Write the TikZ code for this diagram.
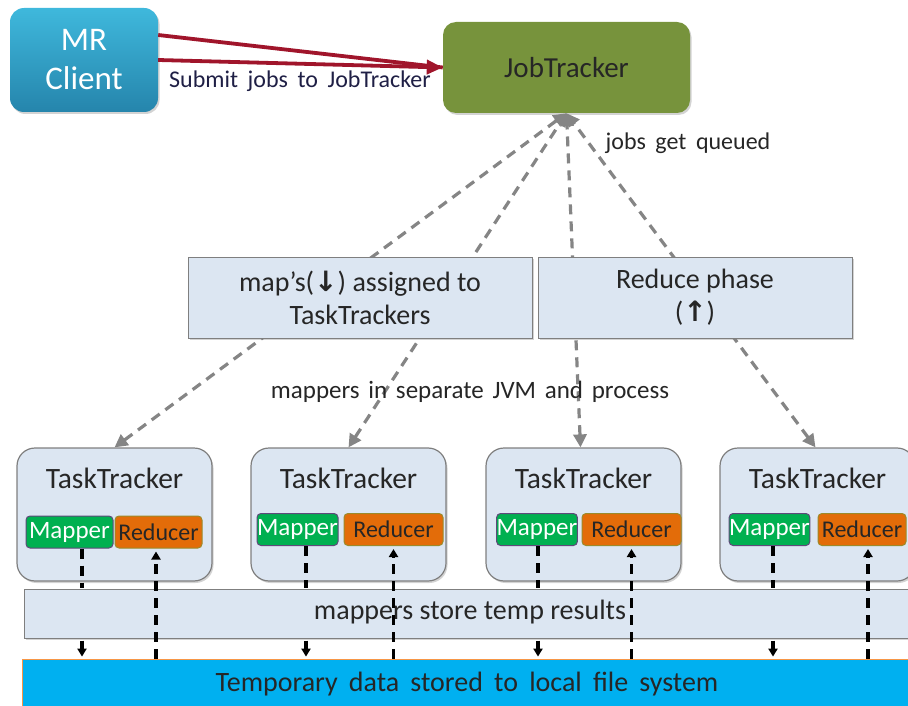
\documentclass[tikz,border=0pt]{standalone}
\usepackage{fontspec}
\setmainfont{Carlito}
\newfontfamily\dejavub{DejaVu Sans Bold}
\usetikzlibrary{arrows.meta,calc,shadows}
\definecolor{boxfill}{HTML}{DCE6F2}
\definecolor{boxline}{HTML}{7F7F7F}
\definecolor{txtcol}{HTML}{262626}
\definecolor{mrtop}{HTML}{3FB8DC}
\definecolor{mrbot}{HTML}{2585AC}
\definecolor{jtfill}{HTML}{77933C}
\definecolor{redarr}{HTML}{A0152B}
\definecolor{grayarr}{HTML}{858585}
\definecolor{mapfill}{HTML}{00B050}
\definecolor{mapline}{HTML}{5F497A}
\definecolor{redfill}{HTML}{E36C09}
\definecolor{redline}{HTML}{9C8A2A}
\definecolor{tmpfill}{HTML}{00B0F0}
\definecolor{tmpline}{HTML}{F79646}
\definecolor{navytxt}{HTML}{1F1F45}
\newcommand{\widesp}[1]{\spaceskip=#1\relax}
\begin{document}
\begin{tikzpicture}[x=1pt,y=-1pt,
  shad/.style={drop shadow={opacity=0.35,shadow xshift=1.5pt,shadow yshift=-2pt}},
  mrbox/.style={rounded corners=14pt,minimum width=148pt,minimum height=104pt,
    top color=mrtop,bottom color=mrbot,draw=none,text=white,align=center,
    font=\fontsize{33}{39}\selectfont,shad},
  jtbox/.style={rounded corners=13pt,minimum width=247pt,minimum height=91pt,
    fill=jtfill,draw=none,text=txtcol,font=\fontsize{29}{34}\selectfont,shad},
  midbox/.style={fill=boxfill,draw=boxline,line width=1pt,minimum height=81pt,
    text=txtcol,align=center,font=\fontsize{28}{33}\selectfont,shad},
  ttbox/.style={rounded corners=18pt,fill=boxfill,draw=boxline,line width=1.2pt,
    minimum width=195pt,minimum height=133pt,shad},
  tttext/.style={text=txtcol,font=\fontsize{29.5}{34}\selectfont,inner sep=0pt},
  mapbox/.style={rounded corners=4pt,fill=mapfill,draw=mapline,line width=1pt,
    minimum height=32pt,inner sep=0pt,text=white,font=\fontsize{25}{29}\selectfont},
  redbox/.style={rounded corners=4pt,fill=redfill,draw=redline,line width=1pt,
    minimum height=32pt,inner sep=0pt,text=txtcol,font=\fontsize{24}{28}\selectfont},
  barbox/.style={fill=boxfill,draw=boxline,line width=1pt,minimum height=49pt,
    minimum width=888pt,shad},
  tmpbox/.style={fill=tmpfill,draw=tmpline,line width=0.8pt,minimum height=52pt,
    minimum width=890pt},
  lbl/.style={text=txtcol,inner sep=0pt},
  redarrow/.style={draw=redarr,line width=3.8pt},
  graydash/.style={draw=grayarr,line width=3.2pt,dash pattern=on 10pt off 7pt,
    {Triangle[length=13pt,width=13pt]}-{Triangle[length=13pt,width=13pt]}},
  blkdash/.style={draw=black,line width=3.2pt,dash pattern=on 10pt off 7pt},
  blktip/.style={-{Triangle[length=8pt,width=9pt]}}
]
\useasboundingbox (0,0) rectangle (908,706);

% top nodes
\node[mrbox] (mr) at (84,60) {MR\\Client};
\node[jtbox] (jt) at (566.5,67.5) {JobTracker};

% task trackers
\node[ttbox] (tt1) at (114.5,514.5) {};
\node[ttbox] (tt2) at (348.5,514.5) {};
\node[ttbox] (tt3) at (583.5,514.5) {};
\node[ttbox] (tt4) at (817.5,514.5) {};
\node[tttext] (ttl1) at (114.5,478) {TaskTracker};
\node[tttext] (ttl2) at (348.5,478) {TaskTracker};
\node[tttext] (ttl3) at (583.5,478) {TaskTracker};
\node[tttext] (ttl4) at (817.5,478) {TaskTracker};

\node[mapbox,minimum width=87pt] (m1) at (69.5,532) {Mapper};
\node[redbox,minimum width=87pt] (r1) at (158.5,532) {Reducer};
\node[mapbox,minimum width=81pt] (m2) at (297.5,529.5) {Mapper};
\node[redbox,minimum width=99pt] (r2) at (393.5,529.5) {Reducer};
\node[mapbox,minimum width=80pt] (m3) at (537,529.5) {Mapper};
\node[redbox,minimum width=99pt] (r3) at (631.5,529.5) {Reducer};
\node[mapbox,minimum width=77pt] (m4) at (769.5,529.5) {Mapper};
\node[redbox,minimum width=88pt] (r4) at (862,529.5) {Reducer};

% gray dashed connectors (behind middle boxes)
\draw[graydash] (tt1.north) -- (jt.south);
\draw[graydash] (tt2.north) -- (jt.south);
\draw[graydash] ($(tt3.north)+(-3,0)$) -- (jt.south);
\draw[graydash] ($(tt4.north)+(-2,0)$) -- (jt.south);

% middle boxes
\node[midbox,minimum width=344pt] (mapbox) at (360,297.5)
  {map’s({\dejavub ↓}) assigned to\\TaskTrackers};
\node[midbox,minimum width=314pt] (redbox) at (695,297.5)
  {Reduce phase\\({\dejavub ↑})};

% red submit arrows
\draw[redarrow] ($(mr.east)+(0,-25)$) -- (jt.west);
\draw[redarrow,-{Triangle[length=16pt,width=14pt]}] (mr.east) -- (jt.west);

% labels
\node[lbl,text=navytxt,font={\fontsize{24}{28}\selectfont\widesp{0.4em}}] (sub) at (300,81) {Submit jobs to JobTracker};
\node[lbl,font={\fontsize{24}{28}\selectfont\widesp{0.4em}}] (queued) at (688,143) {jobs get queued};
\node[lbl,font={\fontsize{25}{29}\selectfont\widesp{0.35em}}] (jvm) at (470,392) {mappers in separate JVM and process};

% bottom bars
\coordinate (a1) at ($(m1.south)+(12.5,0)$);
\coordinate (a2) at ($(m2.south)+(8.5,0)$);
\coordinate (a3) at ($(m3.south)+(1,0)$);
\coordinate (a4) at ($(m4.south)+(3.5,0)$);
\node[barbox] (bar) at (468,613.5) {};
\node[tmpbox] (tmp) at (467,685) {};

% mapper down lines (above the bar's top edge only)
\foreach \a in {a1,a2,a3,a4}{
  \draw[blkdash] (\a) -- ($(\a |- bar.north)+(0,-1)$);
}
\node[lbl,font=\fontsize{28}{33}\selectfont] (bartxt) at (470,612) {mappers store temp results};
\foreach \a in {a1,a2,a3,a4}{
  \draw[blkdash,blktip] ($(\a |- bar.south)+(0,2)$) -- ($(\a |- tmp.north)+(0,-2)$);
}
% reducer up lines
\coordinate (b1) at ($(r1.south)+(-2.5,0)$);
\coordinate (b2) at ($(r2.south)+(0,0)$);
\coordinate (b3) at ($(r3.south)+(0,0)$);
\coordinate (b4) at ($(r4.south)+(6,0)$);
\foreach \b in {b1,b2,b3,b4}{
  \draw[blkdash,blktip] (\b |- tmp.north) -- ($(\b)+(0,3)$);
}

\node[lbl,font={\fontsize{28}{33}\selectfont\widesp{0.4em}}] (tmptxt) at (467,684) {Temporary data stored to local file system};
\end{tikzpicture}
\end{document}
